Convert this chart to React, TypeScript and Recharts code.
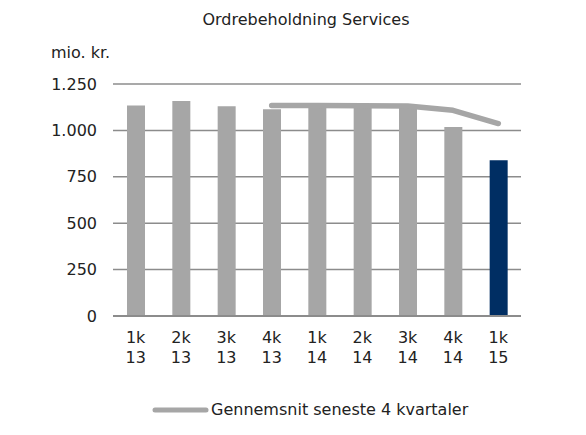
import React from "react";
import { ComposedChart, Bar, Line, XAxis, YAxis, CartesianGrid, Cell, Legend } from "recharts";

const quarters = ["1k", "2k", "3k", "4k", "1k", "2k", "3k", "4k", "1k"];
const years = ["13", "13", "13", "13", "14", "14", "14", "14", "15"];
const orders = [1134, 1158, 1130, 1114, 1135, 1130, 1135, 1018, 839];
const avg4: (number | null)[] = [null, null, null, 1134, 1134, 1133, 1132, 1108, 1037];
const yTicks = [0, 250, 500, 750, 1000, 1250];

const title = "Ordrebeholdning Services";
const unit = "mio. kr.";
const lineName = "Gennemsnit seneste 4 kvartaler";

const GREY = "#a6a6a6";
const NAVY = "#002e63";
const GRID = "#8c8c8c";
const FONT = "'DejaVu Sans', Verdana, sans-serif";
const FS = 16;

const data = quarters.map((q, i) => ({
  key: `${q} ${years[i]}`,
  q,
  yr: years[i],
  orders: orders[i],
  avg: avg4[i],
}));

const fmt = (v: number) => v.toLocaleString("da-DK").replace(/,/g, ".");

const XTick = (props: any) => {
  const { x, y, index } = props;
  return (
    <text x={x} y={y} textAnchor="middle" fontFamily={FONT} fontSize={FS} fill="#222">
      <tspan x={x} dy={27}>{quarters[index]}</tspan>
      <tspan x={x} dy={19.5}>{years[index]}</tspan>
    </text>
  );
};

const LegendContent = () => (
  <div style={{ display: "flex", alignItems: "center", justifyContent: "flex-start", fontFamily: FONT, fontSize: FS, color: "#222", height: 17, lineHeight: "17px" }}>
    <svg width={58} height={10} style={{ marginLeft: 151 }}>
      <line x1={4} y1={5} x2={55} y2={5} stroke={GREY} strokeWidth={5} strokeLinecap="round" />
    </svg>
    <span style={{ marginLeft: 2 }}>{lineName}</span>
  </div>
);

export default function App() {
  return (
    <div style={{ position: "absolute", left: 0, top: 0, width: 586, height: 435, background: "#fff" }}>
      <div style={{ position: "absolute", left: 0, width: 612, top: 9.5, textAlign: "center", fontFamily: FONT, fontSize: FS, color: "#222", whiteSpace: "nowrap" }}>
        {title}
      </div>
      <div style={{ position: "absolute", left: 51, top: 42.5, fontFamily: FONT, fontSize: FS, color: "#222" }}>{unit}</div>
      <ComposedChart width={586} height={435} data={data} margin={{ top: 84, right: 65, left: 0, bottom: 0 }}>
        <CartesianGrid vertical={false} stroke={GRID} strokeWidth={1.5} />
        <XAxis
          dataKey="key"
          tick={<XTick />}
          tickLine={false}
          tickSize={0}
          tickMargin={0}
          axisLine={{ stroke: GRID, strokeWidth: 2 }}
          height={102}
          interval={0}
        />
        <YAxis
          domain={[0, 1250]}
          ticks={yTicks}
          tickFormatter={fmt}
          axisLine={false}
          tickLine={false}
          tickMargin={10}
          width={113}
          tick={{ fontFamily: FONT, fontSize: FS, fill: "#222" }}
        />
        <Bar dataKey="orders" barSize={18} isAnimationActive={false} legendType="none">
          {data.map((d, i) => (
            <Cell key={d.key} fill={i === data.length - 1 ? NAVY : GREY} />
          ))}
        </Bar>
        <Line
          dataKey="avg"
          name={lineName}
          stroke={GREY}
          strokeWidth={5.5}
          strokeLinecap="round"
          strokeLinejoin="round"
          dot={false}
          activeDot={false}
          isAnimationActive={false}
        />
        <Legend content={<LegendContent />} wrapperStyle={{ position: "absolute", left: 0, top: 401, width: 586, height: 17 }} />
      </ComposedChart>
    </div>
  );
}
